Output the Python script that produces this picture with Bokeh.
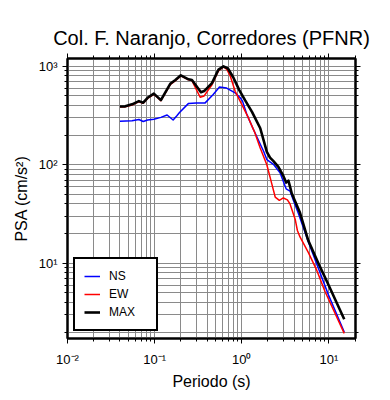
from bokeh.plotting import figure
from bokeh.models import (LogAxis, FixedTicker, CustomJSTickFormatter, Legend, LegendItem, Range1d)
from bokeh.embed import file_html
from bokeh.resources import INLINE

title = "Col. F. Naranjo, Corredores (PFNR)"
x_label = "Periodo (s)"
y_label = "PSA (cm/s²)"

ns_period = [0.040, 0.055, 0.066, 0.074, 0.083, 0.098, 0.118, 0.139, 0.163, 0.180, 0.193,
             0.245, 0.300, 0.380, 0.470, 0.555, 0.670, 0.840, 0.960, 1.02, 1.14, 1.35, 1.78,
             1.94, 2.31, 2.75, 3.23, 3.58, 3.90, 4.47, 5.80, 7.57, 9.85, 15.0]
ns_psa = [277, 280, 288, 275, 285, 290, 303, 320, 285, 315, 340,
          420, 425, 425, 516, 615, 601, 537, 479, 443, 327, 232, 137,
          113, 101, 83, 57, 54, 44, 32, 16.5, 8.9, 4.8, 2.0]

ew_period = [0.040, 0.046, 0.055, 0.066, 0.074, 0.083, 0.098, 0.118, 0.151, 0.173, 0.200,
             0.245, 0.268, 0.333, 0.370, 0.455, 0.541, 0.617, 0.674, 0.736, 0.84, 1.0,
             1.17, 1.40, 1.62, 1.94, 2.20, 2.42, 2.70, 3.00, 3.34, 3.58, 4.10, 4.35,
             4.66, 5.80, 7.25, 9.00, 15.0]
ew_psa = [385, 388, 405, 437, 422, 472, 520, 447, 650, 715, 800,
          728, 715, 485, 500, 650, 900, 985, 930, 800, 557, 411,
          310, 216, 150, 100, 65, 47, 43.5, 46, 44, 40, 28, 21.5,
          18.5, 12.9, 8.5, 5.2, 1.94]

max_period = [0.040, 0.046, 0.055, 0.066, 0.074, 0.083, 0.098, 0.118, 0.151, 0.173, 0.200,
              0.245, 0.268, 0.340, 0.370, 0.455, 0.541, 0.617, 0.694, 0.80, 0.94, 1.094,
              1.31, 1.63, 1.94, 2.11, 2.31, 2.63, 3.00, 3.23, 3.43, 3.58, 3.75, 4.66,
              5.80, 7.57, 9.44, 15.0]
max_psa = [390, 392, 411, 443, 427, 479, 528, 453, 664, 726, 809,
           738, 726, 545, 560, 675, 927, 1000, 950, 770, 570, 450,
           345, 235, 135, 118, 109, 95, 77, 66, 69, 60, 51, 32.5,
           17, 10, 6.6, 2.7]

series_names = ["NS", "EW", "MAX"]
series_colors = ["#0000ff", "#ff0000", "#000000"]
series_widths = [1.5, 1.5, 2.6]

x_major = [0.01, 0.1, 1, 10]
y_major = [10, 100, 1000]

FONT = "Liberation Sans"

p = figure(width=382, height=392, x_axis_type="log", y_axis_type="log",
           x_range=Range1d(0.01, 20.2), y_range=Range1d(1.72, 1200),
           output_backend="svg", toolbar_location=None,
           min_border_left=67, min_border_right=27, min_border_top=58, min_border_bottom=47)

p.title.text = title
p.title.align = "center"
p.title.text_font = FONT
p.title.text_font_size = "20px"
p.title.text_font_style = "normal"
p.title.text_color = "black"

def minors(decades):
    out = []
    for d in decades:
        for k in range(2, 10):
            out.append(k * d)
    return out

x_ticker = FixedTicker(ticks=x_major, minor_ticks=minors([0.01, 0.1, 1, 10]))
y_ticker = FixedTicker(ticks=y_major, minor_ticks=minors([1, 10, 100, 1000]))

fmt = CustomJSTickFormatter(code="""
const sup = {'-':'\u207b','0':'\u2070','1':'\u00b9','2':'\u00b2','3':'\u00b3','4':'\u2074',
             '5':'\u2075','6':'\u2076','7':'\u2077','8':'\u2078','9':'\u2079'};
const e = Math.round(Math.log10(tick));
return '10' + String(e).split('').map(c => sup[c]).join('');
""")
blank = CustomJSTickFormatter(code="return '';")

def style_axis(ax, ticker, formatter, show):
    ax.ticker = ticker
    ax.formatter = formatter
    ax.axis_line_width = 2
    ax.axis_line_color = "black"
    ax.major_tick_in = 0
    ax.major_tick_out = 5
    ax.minor_tick_in = 0
    ax.minor_tick_out = 3
    ax.major_tick_line_color = "black"
    ax.minor_tick_line_color = "black"
    ax.major_label_text_font = FONT
    ax.major_label_text_font_size = "13px" if show else "0px"
    ax.major_label_text_color = "black"
    ax.major_label_standoff = 5 if show else 0
    ax.axis_label_text_font = FONT
    ax.axis_label_text_font_size = "16px"
    ax.axis_label_text_font_style = "normal"
    ax.axis_label_text_color = "black"

style_axis(p.xaxis[0], x_ticker, fmt, True)
style_axis(p.yaxis[0], y_ticker, fmt, True)
p.xaxis[0].axis_label = x_label
p.yaxis[0].axis_label = y_label
p.xaxis[0].major_label_standoff = 8
p.xaxis[0].axis_label_standoff = 3
p.yaxis[0].axis_label_standoff = 6
p.yaxis[0].major_label_orientation = "horizontal"

top = LogAxis()
style_axis(top, x_ticker, blank, False)
right = LogAxis()
style_axis(right, y_ticker, blank, False)
p.add_layout(top, "above")
p.add_layout(right, "right")

for g, t in ((p.xgrid[0], x_ticker), (p.ygrid[0], y_ticker)):
    g.ticker = t
    g.grid_line_color = "#8a8a8a"
    g.grid_line_width = 1
    g.minor_grid_line_color = "#8a8a8a"
    g.minor_grid_line_width = 1

p.outline_line_color = "black"
p.outline_line_width = 2
p.outline_line_alpha = 1
p.background_fill_color = "white"
p.border_fill_color = "white"

renderers = []
for per, val, c, w in ((ns_period, ns_psa, series_colors[0], series_widths[0]),
                       (ew_period, ew_psa, series_colors[1], series_widths[1]),
                       (max_period, max_psa, series_colors[2], series_widths[2])):
    renderers.append(p.line(per, val, line_color=c, line_width=w, line_join="round"))

legend = Legend(items=[LegendItem(label=n, renderers=[r]) for n, r in zip(series_names, renderers)],
                location=(6, 7), margin=0, padding=9, spacing=2,
                glyph_width=16, glyph_height=16, label_height=16, label_width=38,
                label_standoff=9, label_text_font=FONT, label_text_font_size="12px",
                label_text_color="black",
                border_line_color="black", border_line_width=2, border_line_alpha=1,
                background_fill_color="white", background_fill_alpha=1)
p.add_layout(legend, "center")

open("out.html", "w").write(file_html(p, INLINE))
